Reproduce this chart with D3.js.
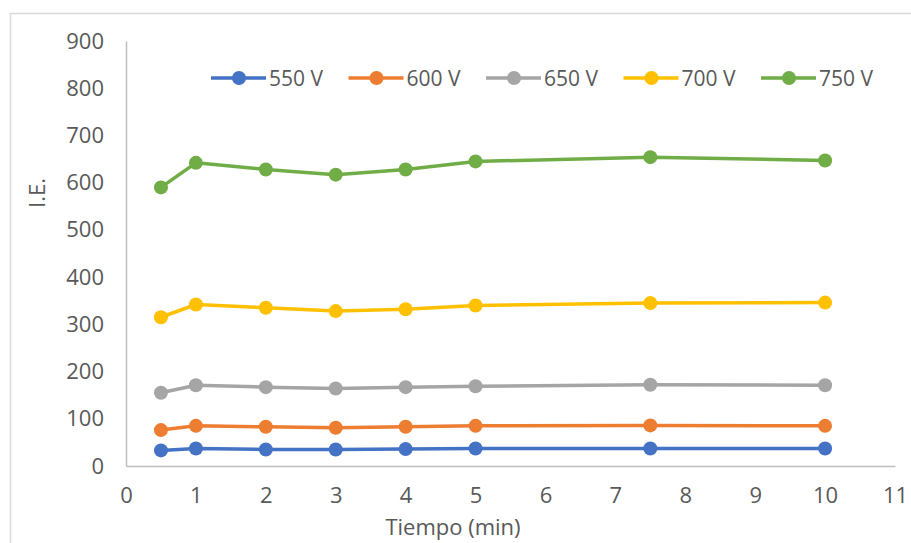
<!DOCTYPE html>
<html>
<head>
<meta charset="utf-8">
<script src="https://cdn.jsdelivr.net/npm/d3@7"></script>
<style>
  html, body { margin: 0; padding: 0; background: #ffffff; }
  svg { display: block; }
  text { font-family: "Open Sans", "Liberation Sans", sans-serif; fill: #595959; }
</style>
</head>
<body>
<svg id="chart" width="911" height="543"></svg>
<script>
// Sampling times (min)
const tiempos = [0.5, 1, 2, 3, 4, 5, 7.5, 10];

// Series names and colours
const seriesNames = ["550 V", "600 V", "650 V", "700 V", "750 V"];
const seriesColors = ["#4472C4", "#ED7D31", "#A5A5A5", "#FFC000", "#70AD47"];

// I.E. values for each voltage
const ie550 = [33, 37, 35, 35, 36, 37, 37, 37];
const ie600 = [76, 85, 83, 81, 83, 85, 86, 85];
const ie650 = [155, 171, 167, 164, 167, 169, 172, 171];
const ie700 = [315, 342, 335, 328, 332, 340, 345, 346];
const ie750 = [590, 642, 628, 617, 628, 645, 654, 647];

// Axis ticks
const xTicks = [0, 1, 2, 3, 4, 5, 6, 7, 8, 9, 10, 11];
const yTicks = [0, 100, 200, 300, 400, 500, 600, 700, 800, 900];

const allValues = [ie550, ie600, ie650, ie700, ie750];
const series = seriesNames.map((name, i) => ({
  name,
  color: seriesColors[i],
  points: tiempos.map((t, j) => ({ t, v: allValues[i][j] }))
}));

const svg = d3.select("#chart");
const FS = 22;

// Chart frame
svg.append("rect")
  .attr("x", 10.5).attr("y", 13.5)
  .attr("width", 940).attr("height", 600)
  .attr("fill", "#ffffff")
  .attr("stroke", "#d9d9d9")
  .attr("stroke-width", 1.5);

const plot = { left: 126, right: 895, top: 41, bottom: 466 };

const x = d3.scaleLinear().domain([0, 11]).range([plot.left, plot.right]);
const y = d3.scaleLinear().domain([0, 900]).range([plot.bottom, plot.top]);

// Y axis
const yAxis = d3.axisLeft(y).tickValues(yTicks).tickSize(0).tickPadding(22);
const gy = svg.append("g").attr("transform", `translate(${plot.left},0)`).call(yAxis);
gy.select(".domain").attr("stroke", "#bfbfbf").attr("stroke-width", 1.5);
gy.selectAll("text").attr("font-size", FS).style("fill", "#595959")
  .attr("font-family", "Open Sans");

// X axis
const xAxis = d3.axisBottom(x).tickValues(xTicks).tickSize(0).tickPadding(21);
const gx = svg.append("g").attr("transform", `translate(0,${plot.bottom})`).call(xAxis);
gx.select(".domain").attr("stroke", "#bfbfbf").attr("stroke-width", 1.5);
gx.selectAll("text").attr("font-size", FS).style("fill", "#595959")
  .attr("font-family", "Open Sans");

// Axis titles
svg.append("text")
  .attr("x", 453)
  .attr("y", 535)
  .attr("text-anchor", "middle")
  .attr("font-size", FS)
  .text("Tiempo (min)");

svg.append("text")
  .attr("transform", "translate(45,193) rotate(-90)")
  .attr("text-anchor", "middle")
  .attr("font-size", FS)
  .text("I.E.");

// Lines and markers
const line = d3.line().x(d => x(d.t)).y(d => y(d.v));

const gs = svg.append("g").selectAll("g").data(series).join("g");
gs.append("path")
  .attr("d", d => line(d.points))
  .attr("fill", "none")
  .attr("stroke", d => d.color)
  .attr("stroke-width", 3.5)
  .attr("stroke-linejoin", "round");
gs.selectAll("circle")
  .data(d => d.points.map(p => ({ ...p, color: d.color })))
  .join("circle")
  .attr("cx", d => x(d.t))
  .attr("cy", d => y(d.v))
  .attr("r", 7)
  .attr("fill", d => d.color);

// Legend
const legend = svg.append("g").attr("transform", "translate(239,78)");
const items = legend.selectAll("g").data(series).join("g")
  .attr("transform", (d, i) => `translate(${i * 137.5},0)`);
items.append("line")
  .attr("x1", -28).attr("x2", 27)
  .attr("y1", 0).attr("y2", 0)
  .attr("stroke", d => d.color)
  .attr("stroke-width", 3.5);
items.append("circle")
  .attr("r", 7)
  .attr("fill", d => d.color);
items.append("text")
  .attr("x", 30)
  .attr("y", 8)
  .attr("font-size", 21)
  .text(d => d.name);
</script>
</body>
</html>
